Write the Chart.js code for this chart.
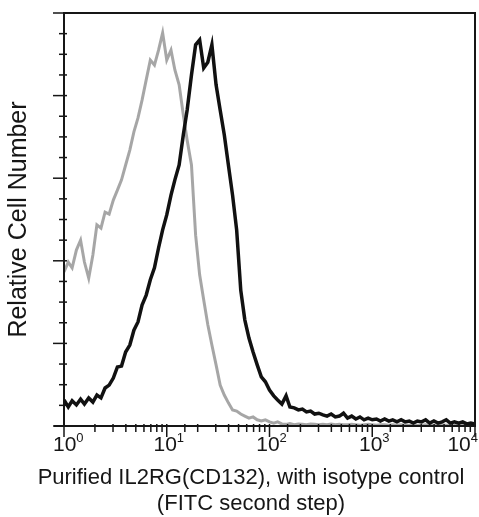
<!DOCTYPE html>
<html>
<head>
<meta charset="utf-8">
<script src="https://cdn.jsdelivr.net/npm/chart.js@4.4.0/dist/chart.umd.min.js"></script>
<style>
  html, body { margin: 0; padding: 0; background: #fff; }
</style>
</head>
<body>
<canvas id="chartHisto" width="479" height="517"></canvas>
<script>
// fluorescence channel (log scale)
const fluo = [
  1, 1.1, 1.2, 1.32, 1.45, 1.58, 1.74, 1.91, 2.09, 2.29, 2.51, 2.75, 3.02, 3.31, 3.63, 3.98, 4.37, 4.79, 5.25, 5.75, 6.31, 6.92, 7.59, 8.32, 9.12,
  10, 11, 12, 13.2, 14.5, 15.8, 17.4, 19.1, 20.9, 22.9, 25.1, 27.5, 30.2, 33.1, 36.3, 39.8, 43.7, 47.9, 52.5, 57.5, 63.1, 69.2, 75.9, 83.2, 91.2,
  100, 110, 120, 132, 145, 158, 174, 191, 209, 229, 251, 275, 302, 331, 363, 398, 437, 479, 525, 575, 631, 692, 759, 832, 912,
  1000, 1100, 1200, 1320, 1450, 1580, 1740, 1910, 2090, 2290, 2510, 2750, 3020, 3310, 3630, 3980, 4370, 4790, 5250, 5750, 6310, 6920, 7590, 8320, 9120,
  10000
];

// isotype control (gray)
const isotypeCounts = [
  37.3, 39.7, 38.3, 42.6, 45.0, 39.7, 35.8, 41.4, 48.7, 47.9, 51.8, 51.3, 54.7, 57.1, 59.6, 63.2, 66.8, 71.2, 74.6, 78.9, 83.8, 88.6, 87.4, 91.0, 95.2,
  88.6, 91.0, 86.2, 82.6, 75.3, 69.2, 63.2, 46.2, 36.6, 30.5, 24.5, 19.6, 14.8, 9.9, 7.5, 5.6, 3.9, 3.6, 2.9, 2.4, 1.9, 2.2, 1.5, 1.2, 1.5,
  1.0, 0.7, 1.0, 0.5, 0.4, 0.6, 0.3, 0.5, 0.4, 0.3, 0.5, 0.4, 0.3, 0.4, 0.3, 0.5, 0.3, 0.4, 0.3, 0.3, 0.4, 0.3, 0.2, 0.3, 0.4,
  0.3, 0.2, 0.3, 0.3, 0.2, 0.3, 0.2, 0.3, 0.2, 0.2, 0.3, 0.2, 0.2, 0.3, 0.2, 0.2, 0.2, 0.3, 0.2, 0.2, 0.2, 0.2, 0.3, 0.2, 0.2,
  0.2
];

// purified IL2RG (CD132) stain (black)
const il2rgCounts = [
  6.3, 4.6, 6.1, 5.1, 6.5, 5.3, 6.8, 5.8, 7.5, 6.8, 9.2, 9.9, 11.6, 14.3, 14.5, 17.9, 19.6, 23.2, 25.2, 29.3, 31.7, 35.4, 38.3, 43.1, 47.5,
  51.1, 55.9, 59.6, 63.2, 70.5, 76.5, 85.0, 92.3, 93.5, 86.7, 88.1, 92.3, 82.6, 76.5, 70.5, 63.2, 55.9, 47.5, 32.9, 25.7, 21.3, 17.9, 14.8, 11.9, 10.7,
  8.7, 7.3, 6.3, 5.3, 7.3, 4.6, 4.4, 3.9, 4.1, 3.4, 3.6, 2.9, 3.1, 2.7, 2.4, 2.9, 2.2, 2.4, 3.1, 1.9, 2.4, 1.7, 2.2, 1.5, 1.9,
  1.5, 1.7, 1.2, 1.7, 1.2, 1.5, 1.0, 1.5, 1.0, 1.2, 0.7, 1.2, 1.0, 1.5, 0.7, 1.2, 0.7, 1.0, 1.5, 0.7, 1.0, 0.7, 1.0, 0.5, 0.7,
  0.5
];

const xTickValues = [1, 10, 100, 1000, 10000];
const xTickBase = "10";
const xTickExp = ["0", "1", "2", "3", "4"];
const yMajorTicks = [0, 20, 40, 60, 80, 100];
const yMinorTicks = [5, 10, 15, 25, 30, 35, 45, 50, 55, 65, 70, 75, 85, 90, 95];
const xTitleLines = ["Purified IL2RG(CD132), with isotype control", "(FITC second step)"];
const yTitle = "Relative Cell Number";

const FONT = "'Liberation Sans', Arial, Helvetica, sans-serif";
const INK = "#161616";

const toPoints = (ys) => fluo.map((x, i) => ({ x: x, y: ys[i] }));

// frame, tick marks and x labels drawn on top of the scales
const histoFrame = {
  id: "histoFrame",
  afterDraw(chart) {
    const ctx = chart.ctx;
    const area = chart.chartArea;
    const xs = chart.scales.x;
    const ys = chart.scales.y;
    ctx.save();
    ctx.strokeStyle = INK;
    ctx.lineWidth = 2;
    ctx.strokeRect(area.left, area.top, area.right - area.left, area.bottom - area.top);

    ctx.beginPath();
    ctx.moveTo(area.left - 10, area.bottom);
    ctx.lineTo(area.left, area.bottom);
    ctx.stroke();

    // y ticks
    ctx.lineWidth = 1.5;
    yMajorTicks.forEach((v) => {
      const py = ys.getPixelForValue(v);
      ctx.beginPath();
      ctx.moveTo(area.left - 11, py);
      ctx.lineTo(area.left + 3, py);
      ctx.stroke();
    });
    yMinorTicks.forEach((v) => {
      const py = ys.getPixelForValue(v);
      ctx.beginPath();
      ctx.moveTo(area.left - 5, py);
      ctx.lineTo(area.left + 3, py);
      ctx.stroke();
    });

    // x ticks from the log scale
    xs.ticks.forEach((t) => {
      const px = xs.getPixelForValue(t.value);
      const isMajor = xTickValues.indexOf(t.value) >= 0;
      ctx.beginPath();
      ctx.moveTo(px, area.bottom - 2);
      ctx.lineTo(px, area.bottom + (isMajor ? 11 : 6));
      ctx.stroke();
    });

    // x tick labels 10^n
    ctx.fillStyle = INK;
    ctx.textBaseline = "alphabetic";
    ctx.textAlign = "left";
    xTickValues.forEach((v, i) => {
      const px = xs.getPixelForValue(v);
      ctx.font = "21px " + FONT;
      const wb = ctx.measureText(xTickBase).width;
      ctx.font = "13px " + FONT;
      const we = ctx.measureText(xTickExp[i]).width;
      let start = px - (wb + we) / 2 + 2;
      if (start < 53) start = 53;
      if (start + wb + we > 478) start = 478 - wb - we;
      ctx.font = "21px " + FONT;
      ctx.fillText(xTickBase, start, 451);
      ctx.font = "13px " + FONT;
      ctx.fillText(xTickExp[i], start + wb, 442);
    });

    // x title
    ctx.font = "22px " + FONT;
    ctx.textAlign = "center";
    ctx.textBaseline = "middle";
    xTitleLines.forEach((line, i) => {
      ctx.fillText(line, 251, 478 + i * 26);
    });
    ctx.restore();
  },
};

const ctx = document.getElementById("chartHisto").getContext("2d");
const histo = new Chart(ctx, {
  type: "scatter",
  data: {
    datasets: [
      {
        label: "IL2RG (CD132)",
        data: toPoints(il2rgCounts),
        showLine: true,
        borderColor: "#111111",
        borderWidth: 3.5,
        pointRadius: 0,
        tension: 0,
      },
      {
        label: "Isotype control",
        data: toPoints(isotypeCounts),
        showLine: true,
        borderColor: "rgba(150, 150, 150, 0.85)",
        borderWidth: 3,
        pointRadius: 0,
        tension: 0,
      },
    ],
  },
  options: {
    responsive: false,
    animation: false,
    devicePixelRatio: 1,
    layout: { padding: { top: 13, right: 4, left: 0, bottom: 0 } },
    plugins: { legend: { display: false }, tooltip: { enabled: false } },
    scales: {
      x: {
        type: "logarithmic",
        min: 1,
        max: 10000,
        grid: { display: false },
        border: { display: false },
        ticks: { display: false },
        afterFit: (s) => { s.height = 91; },
      },
      y: {
        min: 0,
        max: 100,
        grid: { display: false },
        border: { display: false },
        ticks: { display: false },
        title: {
          display: true,
          text: yTitle,
          color: INK,
          font: { family: FONT, size: 25 },
          padding: { top: 4, bottom: 0 },
        },
        afterFit: (s) => { s.width = 64; },
      },
    },
  },
  plugins: [histoFrame],
});
</script>
</body>
</html>
